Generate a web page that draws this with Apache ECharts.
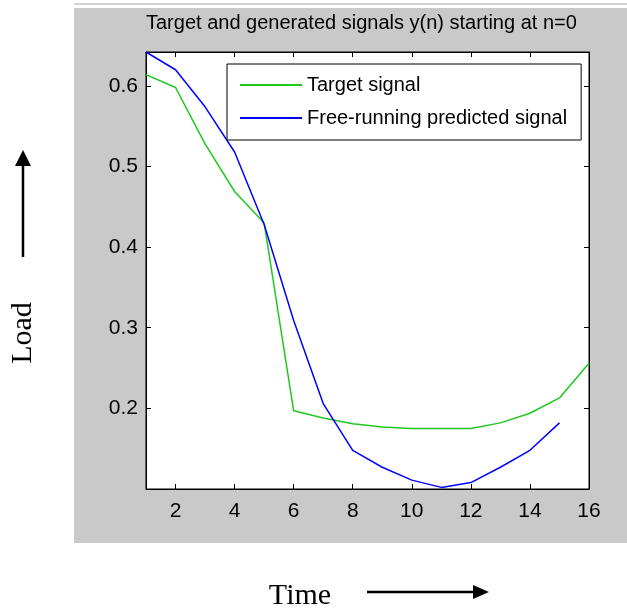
<!DOCTYPE html>
<html>
<head>
<meta charset="utf-8">
<title>Target and generated signals</title>
<script src="https://cdn.jsdelivr.net/npm/echarts@6/dist/echarts.min.js"></script>
<style>
  html, body { margin: 0; padding: 0; background: #fff; }
  #main { width: 627px; height: 610px; }
</style>
</head>
<body>
<div id="main"></div>
<script>
// data
var nValues = [1, 2, 3, 4, 5, 6, 7, 8, 9, 10, 11, 12, 13, 14, 15, 16];
var targetSignal = [0.614, 0.598, 0.528, 0.469, 0.430, 0.197, 0.188, 0.181, 0.177, 0.175, 0.175, 0.175, 0.182, 0.194, 0.213, 0.256];
var predictedSignal = [0.642, 0.620, 0.574, 0.518, 0.428, 0.309, 0.206, 0.148, 0.127, 0.111, 0.102, 0.108, 0.127, 0.148, 0.182];
var xTicks = [2, 4, 6, 8, 10, 12, 14, 16];
var yTicks = [0.2, 0.3, 0.4, 0.5, 0.6];
var seriesNames = ['Target signal', 'Free-running predicted signal'];

function pairs(ys) {
    var out = [];
    for (var i = 0; i < ys.length; i++) {
        out.push([nValues[i], ys[i]]);
    }
    return out;
}

var font = '"Liberation Sans", Arial, sans-serif';
var serif = '"Liberation Serif", "Times New Roman", serif';

var myChart = echarts.init(document.getElementById('main'));

var option = {
    animation: false,
    backgroundColor: '#fff',
    title: {
        text: 'Target and generated signals y(n) starting at n=0',
        left: 146,
        top: 13,
        padding: 0,
        textStyle: { fontFamily: font, fontSize: 20, fontWeight: 'normal', color: '#000' }
    },
    // 灰色背景和坐标轴说明
    graphic: [
        { type: 'rect', z: -10, silent: true, shape: { x: 74, y: 8, width: 553, height: 535 }, style: { fill: '#c9c9c9' } },
        { type: 'line', z: -10, silent: true, shape: { x1: 74, y1: 4, x2: 627, y2: 4 }, style: { stroke: '#d4d4d4', lineWidth: 2 } },
        { type: 'text', rotation: Math.PI / 2, x: 23, y: 333, style: { text: 'Load', font: '30px ' + serif, fill: '#000', align: 'center', verticalAlign: 'middle' } },
        { type: 'line', shape: { x1: 23, y1: 257, x2: 23, y2: 162 }, style: { stroke: '#000', lineWidth: 2.5 } },
        { type: 'polygon', shape: { points: [[23, 150], [15, 166], [31, 166]] }, style: { fill: '#000' } },
        { type: 'text', x: 300, y: 596, style: { text: 'Time', font: '30px ' + serif, fill: '#000', align: 'center', verticalAlign: 'middle' } },
        { type: 'line', shape: { x1: 367, y1: 592, x2: 476, y2: 592 }, style: { stroke: '#000', lineWidth: 2.5 } },
        { type: 'polygon', shape: { points: [[489, 592], [473, 585], [473, 599]] }, style: { fill: '#000' } }
    ],
    legend: {
        orient: 'vertical',
        left: 227,
        top: 64,
        padding: [11, 14, 12, 13],
        itemGap: 13,
        itemWidth: 62,
        itemHeight: 2,
        icon: 'rect',
        backgroundColor: '#fff',
        borderColor: '#000',
        borderWidth: 1,
        borderRadius: 0,
        textStyle: { fontFamily: font, fontSize: 20, lineHeight: 20, color: '#000' },
        data: seriesNames
    },
    grid: {
        left: 146,
        top: 52,
        right: 38,
        bottom: 121,
        show: true,
        backgroundColor: '#fff',
        borderColor: '#000',
        borderWidth: 1
    },
    xAxis: [{
        type: 'value',
        min: 1,
        max: 16,
        axisLine: { lineStyle: { color: '#000', width: 1 } },
        axisTick: { inside: true, length: 5, customValues: xTicks, lineStyle: { color: '#000' } },
        axisLabel: { customValues: xTicks, margin: 12, fontFamily: font, fontSize: 21, color: '#000' },
        splitLine: { show: false }
    }, {
        type: 'value',
        position: 'top',
        min: 1,
        max: 16,
        axisLine: { lineStyle: { color: '#000', width: 1 } },
        axisTick: { inside: true, length: 5, customValues: xTicks, lineStyle: { color: '#000' } },
        axisLabel: { show: false },
        splitLine: { show: false }
    }],
    yAxis: [{
        type: 'value',
        min: 0.1,
        max: 0.642,
        axisLine: { show: true, lineStyle: { color: '#000', width: 1 } },
        axisTick: { show: true, inside: true, length: 5, customValues: yTicks, lineStyle: { color: '#000' } },
        axisLabel: {
            customValues: yTicks, margin: 8, fontFamily: font, fontSize: 21, color: '#000',
            formatter: function (v) { return v.toFixed(1); }
        },
        splitLine: { show: false }
    }, {
        type: 'value',
        position: 'right',
        min: 0.1,
        max: 0.642,
        axisLine: { show: true, lineStyle: { color: '#000', width: 1 } },
        axisTick: { show: true, inside: true, length: 5, customValues: yTicks, lineStyle: { color: '#000' } },
        axisLabel: { show: false },
        splitLine: { show: false }
    }],
    series: [{
        name: seriesNames[0],
        type: 'line',
        data: pairs(targetSignal),
        showSymbol: false,
        color: '#1fc81f',
        lineStyle: { width: 1.5, color: '#1fc81f' }
    }, {
        name: seriesNames[1],
        type: 'line',
        data: pairs(predictedSignal),
        showSymbol: false,
        color: '#0000ff',
        lineStyle: { width: 1.5, color: '#0000ff' }
    }]
};
myChart.setOption(option);
</script>
</body>
</html>
